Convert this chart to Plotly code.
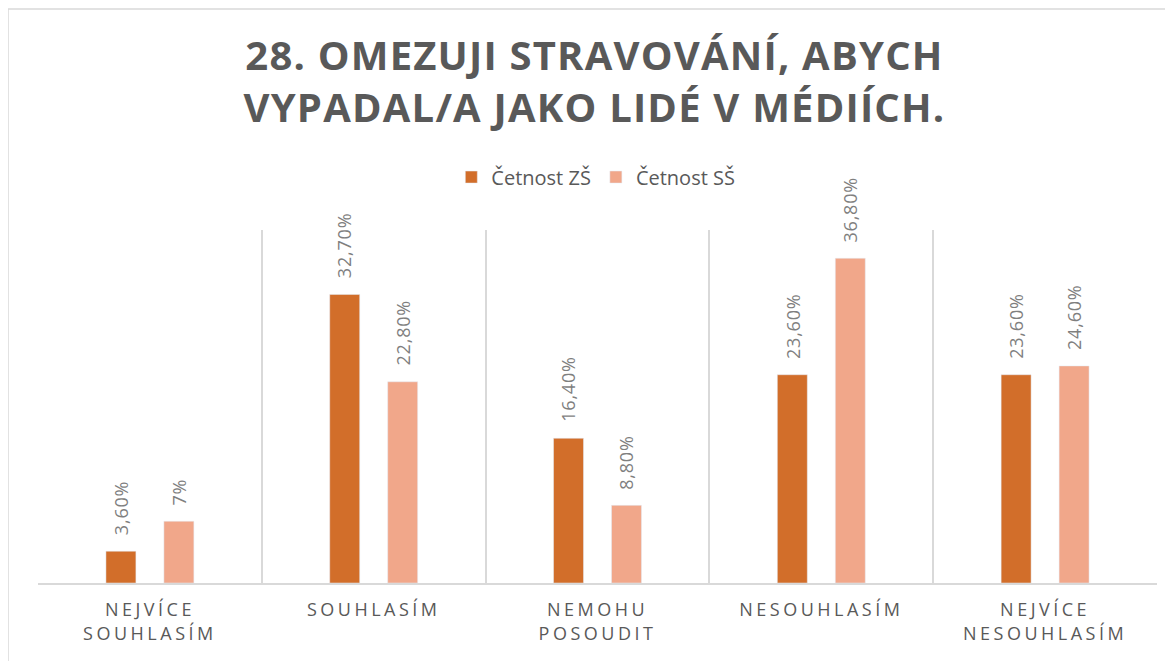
import plotly.graph_objects as go

categories = ["NEJVÍCE<br>SOUHLASÍM", "SOUHLASÍM", "NEMOHU<br>POSOUDIT", "NESOUHLASÍM", "NEJVÍCE<br>NESOUHLASÍM"]
zs_values = [3.6, 32.7, 16.4, 23.6, 23.6]
ss_values = [7.0, 22.8, 8.8, 36.8, 24.6]
zs_labels = ["3,60%", "32,70%", "16,40%", "23,60%", "23,60%"]
ss_labels = ["7%", "22,80%", "8,80%", "36,80%", "24,60%"]
series_names = ["Četnost ZŠ", "Četnost SŠ"]
series_colors = ["#d26e2a", "#f1a78a"]


def spaced(text, px):
    return "<br>".join(f'<span style="letter-spacing:{px}px">{part}</span>' for part in text.split("<br>"))


W, H = 1173, 661
ML, MR, MT, MB = 30, 24, 222, 86
BARGAP, BARGROUPGAP = 0.482, 0.483

fig = go.Figure()
for name, vals, color in zip(series_names, [zs_values, ss_values], series_colors):
    fig.add_trace(go.Bar(
        name=name, x=categories, y=vals,
        marker=dict(color=color), hoverinfo="skip",
    ))

# data labels placed above each bar (offset derived from bar group layout)
plot_w = W - ML - MR
cat_w = plot_w / len(categories)
slot = (1 - BARGAP) * cat_w / 2
for si, (vals, labels) in enumerate([(zs_values, zs_labels), (ss_values, ss_labels)]):
    shift = (si - 0.5) * slot
    for cat, v, lab in zip(categories, vals, labels):
        fig.add_annotation(
            x=cat, y=v, xref="x", yref="y", text=spaced(lab, 0.8), showarrow=False,
            textangle=-90, xanchor="center", yanchor="bottom", xshift=shift, yshift=14,
            font=dict(family="Open Sans", size=18, color="#7f7f7f"),
        )

fig.update_layout(
    width=W, height=H,
    paper_bgcolor="white", plot_bgcolor="white",
    margin=dict(l=ML, r=MR, t=MT, b=MB),
    barmode="group", bargap=BARGAP, bargroupgap=BARGROUPGAP,
    title=dict(
        text=spaced("28. OMEZUJI STRAVOVÁNÍ, ABYCH<br>VYPADAL/A JAKO LIDÉ V MÉDIÍCH.", 1.2),
        x=0.5, xanchor="center", xref="container",
        y=0.9069, yanchor="middle", yref="container",
        font=dict(family="Open Sans", size=40, color="#595959", weight="bold"),
    ),
    legend=dict(
        orientation="h", x=0.4985, xanchor="center", y=1.15, yanchor="middle",
        font=dict(family="Open Sans", size=20, color="#595959"),
        traceorder="normal",
    ),
    showlegend=True,
)
fig.update_xaxes(
    type="category", tickson="boundaries", showgrid=True, gridcolor="#d9d9d9", gridwidth=1.5,
    showline=True, linecolor="#d9d9d9", linewidth=1.5, ticks="",
    tickfont=dict(family="Open Sans", size=18, color="#595959"),
    tickvals=categories, ticktext=[spaced(c, 3.5) for c in categories],
    ticklabelstandoff=10, automargin=False,
    range=[-0.5, 4.5],
)
fig.update_yaxes(
    range=[0, 40], showgrid=False, showticklabels=False, zeroline=False, showline=False,
    automargin=False,
)
# outer chart border (top and left edges visible)
bx = -ML / plot_w
by = (H - 1 - MB) / (H - MT - MB)
fig.add_shape(type="line", xref="paper", yref="paper", x0=bx, x1=1.05, y0=by, y1=by,
              line=dict(color="#d9d9d9", width=1.5))
fig.add_shape(type="line", xref="paper", yref="paper", x0=bx, x1=bx, y0=-0.3, y1=by,
              line=dict(color="#d9d9d9", width=1.5))

fig.write_html("out.html")
